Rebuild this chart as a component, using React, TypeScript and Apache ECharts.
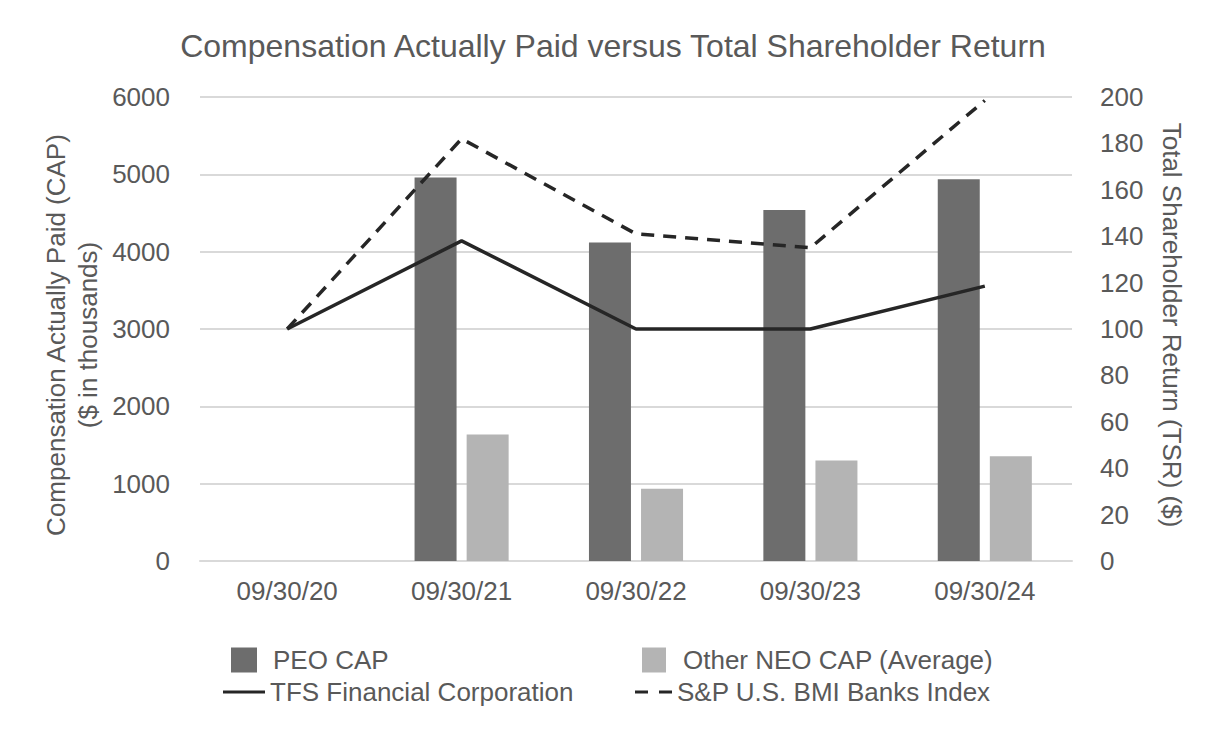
import React, { useEffect, useRef } from "react";
import * as echarts from "echarts";

const categories = ["09/30/20", "09/30/21", "09/30/22", "09/30/23", "09/30/24"];
const peoCap = [null, 4960, 4120, 4540, 4935];
const otherNeoCap = [null, 1635, 935, 1300, 1355];
const tfsTsr = [100, 138, 100, 100, 118.5];
const spBanksTsr = [100, 182, 141, 135, 198.5];

const FONT = "'Liberation Sans', Arial, sans-serif";
const TXT = "#595959";
const LINE = "#262626";

export default function App() {
  const ref = useRef<HTMLDivElement>(null);
  useEffect(() => {
    if (!ref.current) return;
    const chart = echarts.init(ref.current, null, { renderer: "svg" });
    const legendBase = {
      orient: "horizontal",
      padding: 0,
      textStyle: { fontFamily: FONT, fontSize: 26, color: TXT },
      selectedMode: false,
    };
    chart.setOption({
      animation: false,
      backgroundColor: "#ffffff",
      title: {
        text: "Compensation Actually Paid versus Total Shareholder Return",
        left: "center",
        top: 25,
        textStyle: { fontFamily: FONT, fontSize: 32, fontWeight: "normal", color: TXT },
      },
      grid: { left: 200, right: 154, top: 97, bottom: 187, containLabel: false },
      legend: [
        {
          ...legendBase,
          data: [{ name: "PEO CAP", icon: "rect" }],
          left: 231,
          top: 647,
          itemWidth: 26,
          itemHeight: 25,
          textStyle: { ...legendBase.textStyle, padding: [0, 0, 0, 11] },
        },
        {
          ...legendBase,
          data: [{ name: "Other NEO CAP (Average)", icon: "rect" }],
          left: 642,
          top: 647,
          itemWidth: 24,
          itemHeight: 25,
          textStyle: { ...legendBase.textStyle, padding: [0, 0, 0, 12] },
        },
        {
          ...legendBase,
          data: [{ name: "TFS Financial Corporation", icon: "path://M0,0 H42 V3 H0 Z" }],
          left: 223,
          top: 679,
          itemWidth: 42,
          itemHeight: 14,
          itemStyle: { color: LINE, borderWidth: 0 },
          lineStyle: { width: 0 },
        },
        {
          ...legendBase,
          data: [{ name: "S&P U.S. BMI Banks Index", icon: "path://M0,0 H13 V3 H0 Z M24,0 H37 V3 H24 Z" }],
          left: 635,
          top: 679,
          itemWidth: 37,
          itemHeight: 14,
          itemStyle: { color: LINE, borderWidth: 0 },
          lineStyle: { width: 0 },
        },
      ],
      xAxis: {
        type: "category",
        data: categories,
        axisLine: { show: true, lineStyle: { color: "#d9d9d9", width: 2 } },
        axisTick: { show: false },
        axisLabel: { fontFamily: FONT, fontSize: 26, color: TXT, margin: 17 },
      },
      yAxis: [
        {
          type: "value",
          min: 0,
          max: 6000,
          interval: 1000,
          axisLine: { show: false },
          axisTick: { show: false },
          axisLabel: {
            fontFamily: FONT,
            fontSize: 26,
            color: TXT,
            margin: 30,
            formatter: (v: number) => String(v),
          },
          splitLine: { lineStyle: { color: "#d9d9d9", width: 2 } },
        },
        {
          type: "value",
          min: 0,
          max: 200,
          interval: 20,
          position: "right",
          axisLine: { show: false },
          axisTick: { show: false },
          axisLabel: {
            fontFamily: FONT,
            fontSize: 26,
            color: TXT,
            margin: 28,
            formatter: (v: number) => String(v),
          },
          splitLine: { show: false },
        },
      ],
      series: [
        {
          name: "PEO CAP",
          type: "bar",
          data: peoCap,
          yAxisIndex: 0,
          barWidth: 42,
          barGap: "24%",
          itemStyle: { color: "#6d6d6d" },
        },
        {
          name: "Other NEO CAP (Average)",
          type: "bar",
          data: otherNeoCap,
          yAxisIndex: 0,
          barWidth: 42,
          barGap: "24%",
          itemStyle: { color: "#b4b4b4" },
        },
        {
          name: "TFS Financial Corporation",
          type: "line",
          data: tfsTsr,
          yAxisIndex: 1,
          symbol: "none",
          lineStyle: { color: LINE, width: 3.5 },
          itemStyle: { color: LINE },
        },
        {
          name: "S&P U.S. BMI Banks Index",
          type: "line",
          data: spBanksTsr,
          yAxisIndex: 1,
          symbol: "none",
          lineStyle: { color: LINE, width: 3.5, type: [13, 9] },
          itemStyle: { color: LINE },
        },
      ],
      graphic: [
        {
          type: "text",
          x: 72,
          y: 335,
          rotation: Math.PI / 2,
          style: {
            text: "Compensation Actually Paid (CAP)\n($ in thousands)",
            fontFamily: FONT,
            fontSize: 26,
            lineHeight: 32,
            fill: TXT,
            align: "center",
            verticalAlign: "middle",
          },
        },
        {
          type: "text",
          x: 1172,
          y: 325,
          rotation: -Math.PI / 2,
          style: {
            text: "Total Shareholder Return (TSR) ($)",
            fontFamily: FONT,
            fontSize: 26,
            fill: TXT,
            align: "center",
            verticalAlign: "middle",
          },
        },
      ],
    });
    return () => chart.dispose();
  }, []);
  return (
    <div
      ref={ref}
      style={{ position: "fixed", left: 0, top: 0, width: 1226, height: 748, background: "#fff" }}
    />
  );
}
